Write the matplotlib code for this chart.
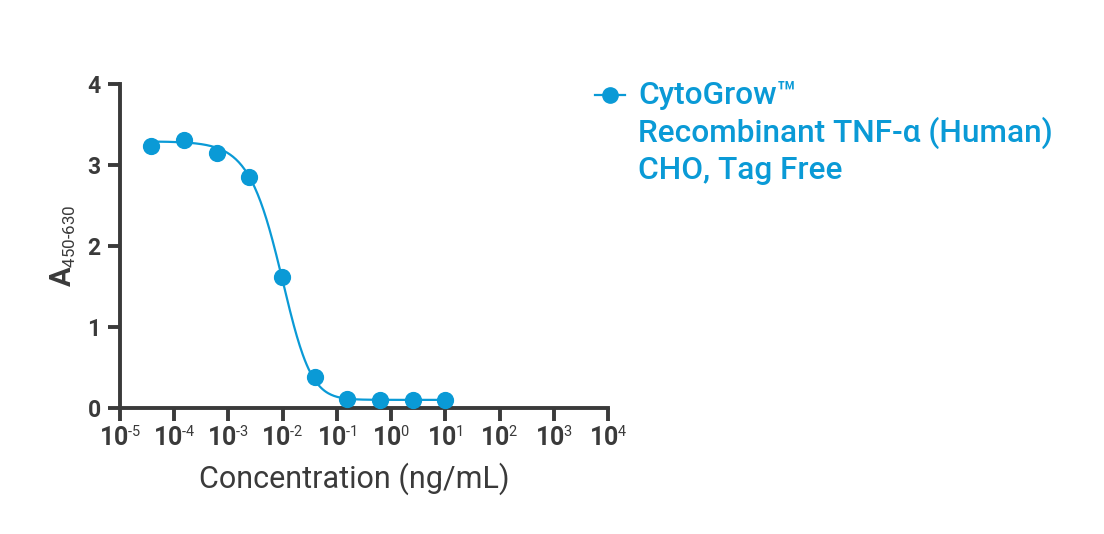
import numpy as np
import matplotlib.pyplot as plt
import matplotlib._mathtext as mt
from matplotlib.lines import Line2D

plt.rcParams['font.family'] = ['Roboto', 'DejaVu Sans']
plt.rcParams['mathtext.fontset'] = 'custom'
plt.rcParams['mathtext.rm'] = 'Roboto'
plt.rcParams['mathtext.bf'] = 'Roboto:bold'
plt.rcParams['mathtext.it'] = 'Roboto'
plt.rcParams['mathtext.default'] = 'rm'
# smaller super/subscripts, like the reference
mt.SHRINK_FACTOR = 0.58

# 4-fold dilution series, ng/mL
conc = [3.8e-5, 1.53e-4, 6.1e-4, 2.44e-3, 9.8e-3, 0.039, 0.156, 0.625, 2.5, 10.0]
absorb = [3.23, 3.31, 3.15, 2.85, 1.62, 0.38, 0.11, 0.10, 0.10, 0.10]

# 5PL fit parameters
top, bottom, ec, hill, asym = 3.29, 0.10, 0.0161, 1.3, 1.8

xticks = [1e-5, 1e-4, 1e-3, 1e-2, 1e-1, 1e0, 1e1, 1e2, 1e3, 1e4]
xtick_labels = ['-5', '-4', '-3', '-2', '-1', '0', '1', '2', '3', '4']
yticks = [0, 1, 2, 3, 4]

legend_lines = ['CytoGrow\u2122', 'Recombinant TNF-\u03b1 (Human)', 'CHO, Tag Free']

blue = '#0a9ad6'
grey = '#3a3a3a'

fig = plt.figure(figsize=(11.04, 5.34), dpi=100)
ax = fig.add_axes([0.1087, 0.236, 0.442, 0.607])

xs = np.logspace(np.log10(conc[0]), np.log10(conc[-1]), 300)
ys = bottom + (top - bottom) / (1 + (xs / ec) ** hill) ** asym
ax.plot(xs, ys, color=blue, lw=1.6, zorder=2)
ax.scatter(conc, absorb, s=130, color=blue, zorder=3, clip_on=False)

ax.set_xscale('log')
ax.set_xlim(1e-5, 1e4)
ax.set_ylim(0, 4)
ax.set_xticks(xticks)
ax.set_xticklabels([r'$\mathbf{10}^{\text{%s}}$' % t for t in xtick_labels])
ax.minorticks_off()
ax.set_yticks(yticks)
ax.set_yticklabels([str(t) for t in yticks], fontweight='bold')

for s in ['top', 'right']:
    ax.spines[s].set_visible(False)
for s in ['left', 'bottom']:
    ax.spines[s].set_linewidth(2.8)
    ax.spines[s].set_color(grey)
    ax.spines[s].set_capstyle('projecting')
ax.tick_params(axis='both', direction='out', length=9, width=2.8, color=grey,
               labelsize=18, labelcolor=grey, pad=4)
ax.tick_params(axis='y', labelsize=16.5, pad=5)

ax.set_xlabel('Concentration (ng/mL)', fontsize=22, color=grey)
ax.xaxis.set_label_coords(0.48, -0.168)
ax.set_ylabel(r'$\mathbf{A}_{\text{450-630}}$', fontsize=21, color=grey, labelpad=7)

# legend drawn by hand so the marker sits on the first line
handle = Line2D([0.539, 0.566], [0.822, 0.822], transform=fig.transFigure,
                color=blue, lw=1.6)
fig.add_artist(handle)
dot = Line2D([0.5525], [0.822], transform=fig.transFigure, color=blue,
             marker='o', markersize=11, lw=0)
fig.add_artist(dot)
for i, t in enumerate(legend_lines):
    fig.text(0.578, 0.822 - i * 0.0705, t, color=blue, fontsize=22.8,
             fontweight='medium', va='center', ha='left')

fig.savefig('out.png', dpi=100)
